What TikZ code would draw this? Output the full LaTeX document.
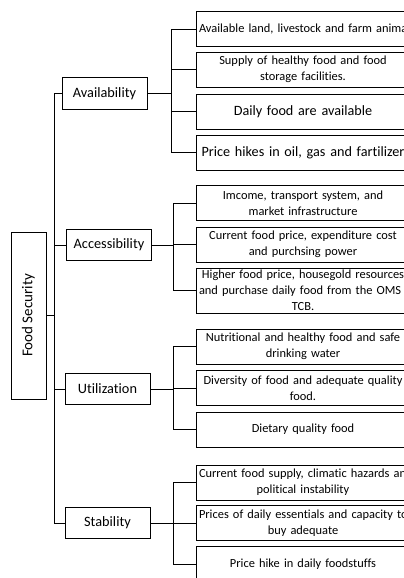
\documentclass[tikz,border=0pt]{standalone}
\usepackage{fontspec}
\setmainfont{Carlito}[Ligatures=NoCommon]
\tikzset{
    leaf/.style={draw, line width=0.9pt, text width=208pt, inner xsep=3pt, inner ysep=0pt,
        minimum height=35pt, align=center, font=\fontsize{12.4}{16}\selectfont},
    bigleaf/.style={leaf, font=\fontsize{14.2}{17}\selectfont},
    level/.style={draw, line width=0.9pt, minimum width=85pt, minimum height=31.5pt,
        inner sep=0pt, font=\fontsize{14.3}{17}\selectfont},
    link/.style={line width=0.8pt}
}
\begin{document}
\begin{tikzpicture}[x=1pt, y=-1pt]
        \clip (0, 0) rectangle (404, 578);
        \fill[white] (0, 0) rectangle (404, 578);

        % root and the four pillars
        \node (fs) at (28.5, 315.5)[draw, line width=0.9pt, rotate=90, minimum width=167pt,
            minimum height=35pt, inner sep=0pt, font=\fontsize{15}{18}\selectfont]{Food Security};
        \node (av) at (104.5, 93.5)[level]{Availability};
        \node (ac) at (109, 245)[level]{Accessibility};
        \node (ut) at (107.5, 389)[level]{Utilization};
        \node (st) at (107.5, 523)[level]{Stability};

        % availability
        \node (av1) at (303, 29)[leaf]{\mbox{Available land, livestock and farm animals}};
        \node (av2) at (303, 69.5)[leaf]{\mbox{Supply of healthy food and food}\\\mbox{storage facilities.}};
        \node (av3) at (303, 111.5)[bigleaf]{\mbox{Daily food are available}};
        \node (av4) at (303, 152.5)[bigleaf]{\mbox{Price hikes in oil, gas and fartilizer}};

        % accessibility
        \node (ac1) at (303, 203)[leaf]{\mbox{Imcome, transport system, and}\\\mbox{market infrastructure}};
        \node (ac2) at (303, 244.5)[leaf]{\mbox{Current food price, expenditure cost}\\\mbox{and purchsing power}};
        \node (ac3) at (303, 290.5)[leaf, minimum height=45pt]{\mbox{Higher food price, housegold resources}\\\mbox{and purchase daily food from the OMS or}\\\mbox{TCB.}};

        % utilization
        \node (ut1) at (303, 346.5)[leaf]{\mbox{Nutritional and healthy food and safe}\\\mbox{drinking water}};
        \node (ut2) at (303, 388)[leaf]{\mbox{Diversity of food and adequate quality}\\\mbox{food.}};
        \node (ut3) at (303, 429.5)[leaf]{\mbox{Dietary quality food}};

        % stability
        \node (st1) at (303, 482.5)[leaf]{\mbox{Current food supply, climatic hazards and}\\\mbox{political instability}};
        \node (st2) at (303, 523)[leaf]{\mbox{Prices of daily essentials and capacity to}\\\mbox{buy adequate}};
        \node (st3) at (303, 564)[leaf]{\mbox{Price hike in daily foodstuffs}};

        % trunk
        \coordinate (tr) at (54.5, 315.5);
        \draw[link] (fs.south) -- (tr);
        \foreach \n in {av, ac, ut, st}{
            \draw[link] (\n.west) -| (tr);
        }

        % branches
        \coordinate (avb) at (171.5, 93.5);
        \coordinate (acb) at (173, 245);
        \coordinate (utb) at (173, 389);
        \coordinate (stb) at (173, 523);
        \foreach \n in {av, ac, ut, st}{
            \draw[link] (\n.east) -- (\n b);
        }
        \foreach \n in {av1, av2, av3, av4}{
            \draw[link] (avb) |- (\n.west);
        }
        \foreach \n in {ac1, ac2, ac3}{
            \draw[link] (acb) |- (\n.west);
        }
        \foreach \n in {ut1, ut2, ut3}{
            \draw[link] (utb) |- (\n.west);
        }
        \foreach \n in {st1, st2, st3}{
            \draw[link] (stb) |- (\n.west);
        }
    \end{tikzpicture}
\end{document}
